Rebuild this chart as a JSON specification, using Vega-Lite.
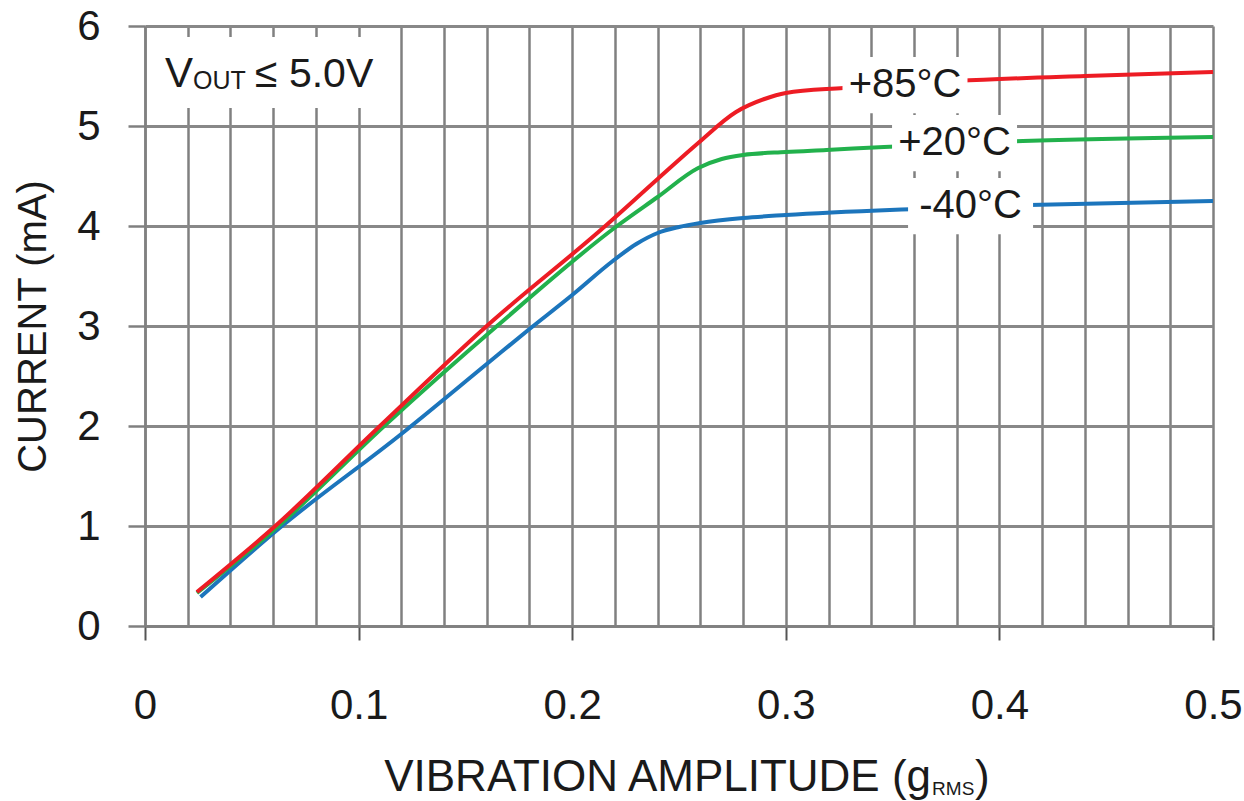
{
  "$schema": "https://vega.github.io/schema/vega-lite/v6.json",
  "width": 1068,
  "height": 600,
  "autosize": {"type": "none"},
  "padding": {"left": 145, "top": 26, "right": 31, "bottom": 175},
  "background": "white",
  "config": {"view": {"stroke": null}, "font": "Liberation Sans"},
  "datasets": {
    "curves": [
      {"series": "-40°C", "x": 0.026, "current": 0.29},
      {"series": "-40°C", "x": 0.063, "current": 0.98},
      {"series": "-40°C", "x": 0.12, "current": 1.92},
      {"series": "-40°C", "x": 0.16, "current": 2.62},
      {"series": "-40°C", "x": 0.18, "current": 2.97},
      {"series": "-40°C", "x": 0.2, "current": 3.31},
      {"series": "-40°C", "x": 0.219, "current": 3.65},
      {"series": "-40°C", "x": 0.23, "current": 3.82},
      {"series": "-40°C", "x": 0.24, "current": 3.93},
      {"series": "-40°C", "x": 0.25, "current": 3.99},
      {"series": "-40°C", "x": 0.26, "current": 4.03},
      {"series": "-40°C", "x": 0.28, "current": 4.08},
      {"series": "-40°C", "x": 0.3, "current": 4.11},
      {"series": "-40°C", "x": 0.36, "current": 4.17},
      {"series": "-40°C", "x": 0.414, "current": 4.21},
      {"series": "-40°C", "x": 0.5, "current": 4.25},
      {"series": "+20°C", "x": 0.0243, "current": 0.33},
      {"series": "+20°C", "x": 0.0625, "current": 1.0},
      {"series": "+20°C", "x": 0.112, "current": 2.0},
      {"series": "+20°C", "x": 0.1648, "current": 3.0},
      {"series": "+20°C", "x": 0.221, "current": 4.0},
      {"series": "+20°C", "x": 0.24, "current": 4.29},
      {"series": "+20°C", "x": 0.259, "current": 4.58},
      {"series": "+20°C", "x": 0.27, "current": 4.67},
      {"series": "+20°C", "x": 0.28, "current": 4.71},
      {"series": "+20°C", "x": 0.3, "current": 4.74},
      {"series": "+20°C", "x": 0.319, "current": 4.76},
      {"series": "+20°C", "x": 0.346, "current": 4.79},
      {"series": "+20°C", "x": 0.411, "current": 4.85},
      {"series": "+20°C", "x": 0.5, "current": 4.89},
      {"series": "+85°C", "x": 0.0243, "current": 0.34},
      {"series": "+85°C", "x": 0.061, "current": 1.0},
      {"series": "+85°C", "x": 0.11, "current": 2.0},
      {"series": "+85°C", "x": 0.16, "current": 3.0},
      {"series": "+85°C", "x": 0.2155, "current": 4.0},
      {"series": "+85°C", "x": 0.24, "current": 4.47},
      {"series": "+85°C", "x": 0.259, "current": 4.83},
      {"series": "+85°C", "x": 0.2767, "current": 5.14},
      {"series": "+85°C", "x": 0.29, "current": 5.27},
      {"series": "+85°C", "x": 0.3, "current": 5.33},
      {"series": "+85°C", "x": 0.327, "current": 5.38},
      {"series": "+85°C", "x": 0.38, "current": 5.45},
      {"series": "+85°C", "x": 0.44, "current": 5.5},
      {"series": "+85°C", "x": 0.5, "current": 5.54}
    ],
    "labels": [
      {"label": "+85°C", "x": 0.3558, "current": 5.41},
      {"label": "+20°C", "x": 0.379, "current": 4.83},
      {"label": "-40°C", "x": 0.3865, "current": 4.2}
    ]
  },
  "layer": [
    {
      "data": {"name": "curves"},
      "mark": {"type": "line", "strokeWidth": 4, "interpolate": "monotone"},
      "encoding": {
        "x": {
          "field": "x", "type": "quantitative",
          "scale": {"domain": [0, 0.5], "nice": false, "zero": false},
          "axis": {
            "values": [0,0.02,0.04,0.06,0.08,0.1,0.12,0.14,0.16,0.18,0.2,0.22,0.24,0.26,0.28,0.3,0.32,0.34,0.36,0.38,0.4,0.42,0.44,0.46,0.48,0.5],
            "title": null,
            "labelExpr": "abs(datum.value*10 - round(datum.value*10)) < 0.01 ? (datum.value == 0 ? '0' : format(datum.value, '.1f')) : ''",
            "labelOverlap": false,
            "labelFlush": false,
            "labelFont": "Liberation Sans",
            "labelFontSize": 42,
            "labelColor": "#1a1a1a",
            "labelPadding": 45,
            "grid": true,
            "gridColor": "#808080",
            "gridWidth": 2.5,
            "domainColor": "#808080",
            "domainWidth": 2.5,
            "tickColor": "#555555",
            "tickWidth": 2,
            "tickSize": 14,
            "tickOpacity": {"condition": {"test": "abs(datum.value*10 - round(datum.value*10)) > 0.01", "value": 0}, "value": 1}
          }
        },
        "y": {
          "field": "current", "type": "quantitative",
          "scale": {"domain": [0, 6], "nice": false},
          "axis": {
            "values": [0,1,2,3,4,5,6],
            "format": "d",
            "title": "CURRENT (mA)",
            "titleFont": "Liberation Sans",
            "titleFontSize": 40,
            "titleFontWeight": "normal",
            "titleColor": "#1a1a1a",
            "titlePadding": 23,
            "labelFont": "Liberation Sans",
            "labelFontSize": 42,
            "labelColor": "#1a1a1a",
            "labelPadding": 28,
            "grid": true,
            "gridColor": "#888888",
            "gridWidth": 3,
            "domainColor": "#808080",
            "domainWidth": 2.5,
            "tickColor": "#808080",
            "tickWidth": 2.5,
            "tickSize": 17
          }
        },
        "color": {
          "field": "series", "type": "nominal",
          "scale": {"domain": ["-40°C", "+20°C", "+85°C"], "range": ["#1C75BC", "#22B14C", "#ED1C24"]},
          "legend": null
        },
        "order": {"field": "x", "type": "quantitative"}
      }
    },
    {
      "data": {"values": [{}]},
      "mark": {"type": "rect", "fill": "white"},
      "encoding": {
        "x": {"datum": 0.001, "type": "quantitative"},
        "x2": {"datum": 0.1185},
        "y": {"datum": 5.89, "type": "quantitative"},
        "y2": {"datum": 5.18}
      }
    },
    {
      "data": {"name": "labels"},
      "mark": {"type": "point", "shape": "M-1,-0.45H1V0.45H-1Z", "size": 15625, "filled": true, "fill": "white", "opacity": 1, "strokeWidth": 0},
      "encoding": {
        "x": {"field": "x", "type": "quantitative"},
        "y": {"field": "current", "type": "quantitative"}
      }
    },
    {
      "data": {"name": "labels"},
      "mark": {"type": "text", "align": "center", "baseline": "middle", "font": "Liberation Sans", "fontSize": 40, "color": "#1a1a1a"},
      "encoding": {
        "x": {"field": "x", "type": "quantitative"},
        "y": {"field": "current", "type": "quantitative"},
        "text": {"field": "label"}
      }
    },
    {
      "data": {"values": [{}]},
      "mark": {"type": "text", "align": "left", "baseline": "alphabetic", "font": "Liberation Sans", "fontSize": 42, "color": "#1a1a1a", "text": "V"},
      "encoding": {
        "x": {"datum": 0.0094, "type": "quantitative"},
        "y": {"datum": 5.39, "type": "quantitative"}
      }
    },
    {
      "data": {"values": [{}]},
      "mark": {"type": "text", "align": "left", "baseline": "alphabetic", "font": "Liberation Sans", "fontSize": 25, "color": "#1a1a1a", "text": "OUT"},
      "encoding": {
        "x": {"datum": 0.0225, "type": "quantitative"},
        "y": {"datum": 5.37, "type": "quantitative"}
      }
    },
    {
      "data": {"values": [{}]},
      "mark": {"type": "text", "align": "left", "baseline": "alphabetic", "font": "Liberation Sans", "fontSize": 41, "color": "#1a1a1a", "text": "≤ 5.0V"},
      "encoding": {
        "x": {"datum": 0.0515, "type": "quantitative"},
        "y": {"datum": 5.39, "type": "quantitative"}
      }
    },
    {
      "data": {"values": [{}]},
      "mark": {"type": "text", "align": "right", "baseline": "alphabetic", "font": "Liberation Sans", "fontSize": 44, "color": "#1a1a1a", "text": "VIBRATION AMPLITUDE (g"},
      "encoding": {
        "x": {"datum": 0.368, "type": "quantitative"},
        "y": {"datum": -1.65, "type": "quantitative"}
      }
    },
    {
      "data": {"values": [{}]},
      "mark": {"type": "text", "align": "left", "baseline": "alphabetic", "font": "Liberation Sans", "fontSize": 19, "color": "#1a1a1a", "text": "RMS"},
      "encoding": {
        "x": {"datum": 0.3685, "type": "quantitative"},
        "y": {"datum": -1.69, "type": "quantitative"}
      }
    },
    {
      "data": {"values": [{}]},
      "mark": {"type": "text", "align": "left", "baseline": "alphabetic", "font": "Liberation Sans", "fontSize": 44, "color": "#1a1a1a", "text": ")"},
      "encoding": {
        "x": {"datum": 0.3886, "type": "quantitative"},
        "y": {"datum": -1.65, "type": "quantitative"}
      }
    }
  ]
}
